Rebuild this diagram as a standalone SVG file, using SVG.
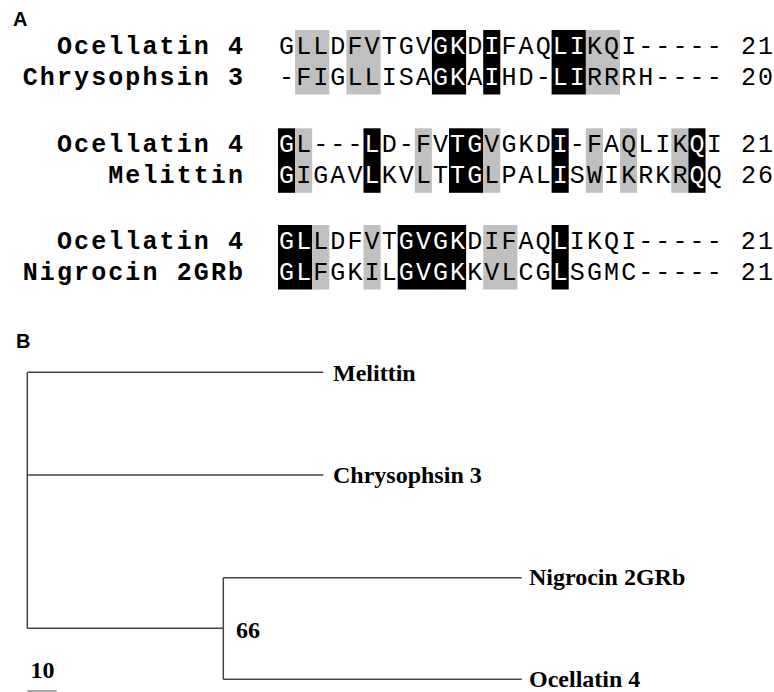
<svg xmlns="http://www.w3.org/2000/svg" width="774" height="692" viewBox="0 0 774 692">
<style>
.panel{font-family:"Liberation Sans",Arial,sans-serif;font-weight:bold;font-size:20px;fill:#000}
.lab{font-family:"Liberation Mono","Courier New",monospace;font-weight:bold;font-size:25px;letter-spacing:2.1px;fill:#000}
.seq{font-family:"Liberation Mono","Courier New",monospace;font-size:25px;letter-spacing:2.1px;fill:#000}
.w{fill:#fff}
.g{fill:#c0c0c0}
.b{fill:#000}
.tl{font-family:"Liberation Serif","Times New Roman",serif;font-weight:bold;font-size:24px;fill:#000}
.br{stroke:#444;stroke-width:1.5;fill:none}
</style>
<rect width="774" height="692" fill="#fff"/>
<text class="panel" x="13" y="26">A</text>
<text class="panel" x="16" y="348">B</text>

<g id="block1">
<rect class="g" x="295.1" y="30" width="34.2" height="64.5"/>
<rect class="g" x="346.4" y="30" width="34.2" height="64.5"/>
<rect class="g" x="585.8" y="30" width="34.2" height="64.5"/>
<rect class="b" x="431.9" y="30" width="34.2" height="64.5"/>
<rect class="b" x="483.2" y="30" width="17.1" height="64.5"/>
<rect class="b" x="551.6" y="30" width="34.2" height="64.5"/>
<text class="lab" x="56.95" y="53.5">Ocellatin 4</text>
<text class="lab" x="22.75" y="84.5">Chrysophsin 3</text>
<text class="seq" x="279.05" y="53.5">GLLDFVTGV<tspan class="w">GK</tspan>D<tspan class="w">I</tspan>FAQ<tspan class="w">LI</tspan>KQI----- 21</text>
<text class="seq" x="279.05" y="84.5">-FIGLLISA<tspan class="w">GK</tspan>A<tspan class="w">I</tspan>HD-<tspan class="w">LI</tspan>RRRH---- 20</text>
</g>

<g id="block2">
<rect class="b" x="278" y="128.3" width="17.1" height="64.5"/>
<rect class="g" x="295.1" y="128.3" width="17.1" height="64.5"/>
<rect class="b" x="363.5" y="128.3" width="17.1" height="64.5"/>
<rect class="g" x="414.8" y="128.3" width="17.1" height="64.5"/>
<rect class="b" x="449" y="128.3" width="34.2" height="64.5"/>
<rect class="g" x="483.2" y="128.3" width="17.1" height="64.5"/>
<rect class="b" x="551.6" y="128.3" width="17.1" height="64.5"/>
<rect class="g" x="585.8" y="128.3" width="17.1" height="64.5"/>
<rect class="g" x="620" y="128.3" width="17.1" height="64.5"/>
<rect class="g" x="671.3" y="128.3" width="17.1" height="64.5"/>
<rect class="b" x="688.4" y="128.3" width="17.1" height="64.5"/>
<text class="lab" x="56.95" y="151.8">Ocellatin 4</text>
<text class="lab" x="108.25" y="182.8">Melittin</text>
<text class="seq" x="279.05" y="151.8"><tspan class="w">G</tspan>L---<tspan class="w">L</tspan>D-FV<tspan class="w">TG</tspan>VGKD<tspan class="w">I</tspan>-FAQLIK<tspan class="w">Q</tspan>I 21</text>
<text class="seq" x="279.05" y="182.8"><tspan class="w">G</tspan>IGAV<tspan class="w">L</tspan>KVLT<tspan class="w">TG</tspan>LPAL<tspan class="w">I</tspan>SWIKRKR<tspan class="w">Q</tspan>Q 26</text>
</g>

<g id="block3">
<rect class="b" x="278" y="225" width="34.2" height="64.5"/>
<rect class="g" x="312.2" y="225" width="17.1" height="64.5"/>
<rect class="g" x="363.5" y="225" width="17.1" height="64.5"/>
<rect class="b" x="397.7" y="225" width="68.4" height="64.5"/>
<rect class="g" x="483.2" y="225" width="34.2" height="64.5"/>
<rect class="b" x="551.6" y="225" width="17.1" height="64.5"/>
<text class="lab" x="56.95" y="248.5">Ocellatin 4</text>
<text class="lab" x="22.75" y="279.5">Nigrocin 2GRb</text>
<text class="seq" x="279.05" y="248.5"><tspan class="w">GL</tspan>LDFVT<tspan class="w">GVGK</tspan>DIFAQ<tspan class="w">L</tspan>IKQI----- 21</text>
<text class="seq" x="279.05" y="279.5"><tspan class="w">GL</tspan>FGKIL<tspan class="w">GVGK</tspan>KVLCG<tspan class="w">L</tspan>SGMC----- 21</text>
</g>

<g id="connectors">
<path class="br" d="M27.3,372.3 V628.3"/>
<path class="br" d="M27.3,372.3 H323.3"/>
<path class="br" d="M27.3,475 H323.3"/>
<path class="br" d="M27.3,628.3 H223.3"/>
<path class="br" d="M223.3,577.7 V679.3"/>
<path class="br" d="M223.3,577.7 H521.7"/>
<path class="br" d="M223.3,679.3 H521.7"/>
</g>

<g id="node-melittin"><text class="tl" x="333" y="380.5">Melittin</text></g>
<g id="node-chrysophsin3"><text class="tl" x="333" y="483">Chrysophsin 3</text></g>
<g id="node-nigrocin2grb"><text class="tl" x="529" y="585">Nigrocin 2GRb</text></g>
<g id="node-ocellatin4"><text class="tl" x="529" y="687">Ocellatin 4</text></g>
<g id="node-inner"><text class="tl" x="236" y="637.7">66</text></g>
<g id="scale">
<text class="tl" x="30.5" y="678">10</text>
<path d="M27.3,691 H56.7" stroke="#888" stroke-width="1.5"/>
</g>
</svg>
